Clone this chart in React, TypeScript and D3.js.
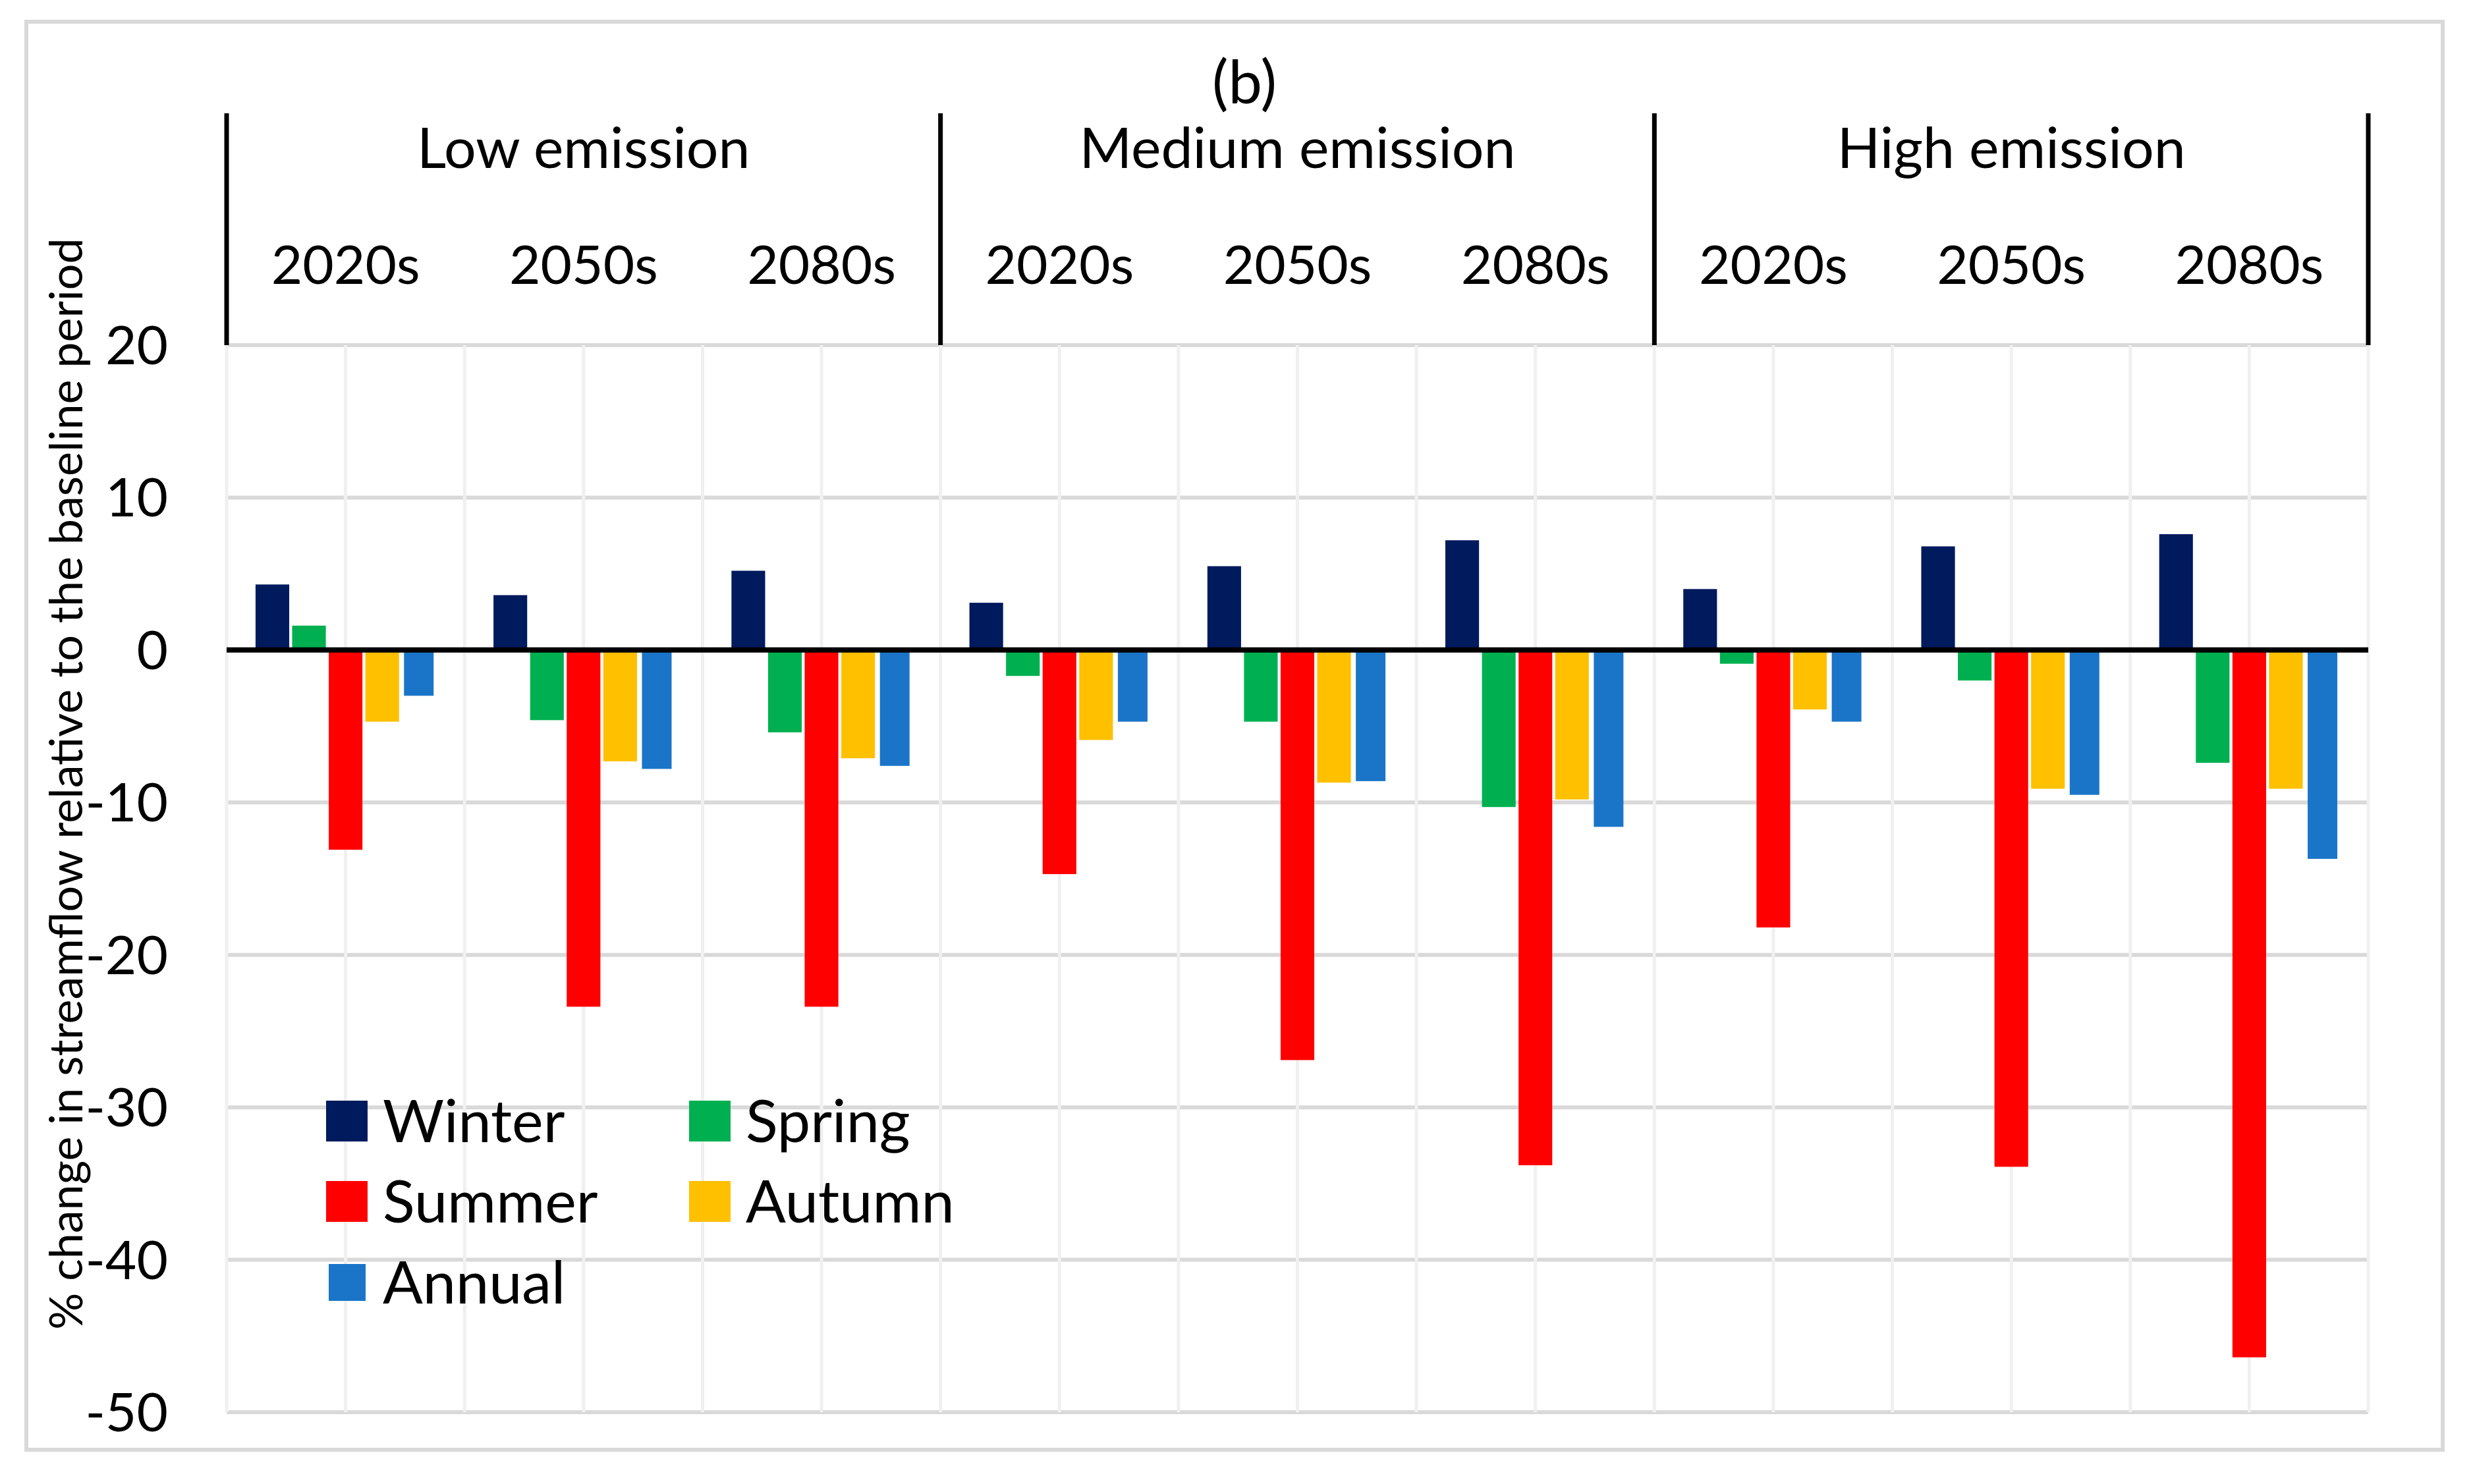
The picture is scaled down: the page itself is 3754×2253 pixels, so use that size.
import React, { useRef, useEffect } from 'react'
import * as d3 from 'd3'

const scenarios = ['Low emission', 'Medium emission', 'High emission']
const periods = ['2020s', '2050s', '2080s']
const seasons = ['Winter', 'Spring', 'Summer', 'Autumn', 'Annual']
const seasonColors = ['#001A5E', '#00B050', '#FF0000', '#FFC000', '#1A75C9']

// one value per scenario/period, in order Low 2020s .. High 2080s
const winter = [4.3, 3.6, 5.2, 3.1, 5.5, 7.2, 4.0, 6.8, 7.6]
const spring = [1.6, -4.6, -5.4, -1.7, -4.7, -10.3, -0.9, -2.0, -7.4]
const summer = [-13.1, -23.4, -23.4, -14.7, -26.9, -33.8, -18.2, -33.9, -46.4]
const autumn = [-4.7, -7.3, -7.1, -5.9, -8.7, -9.8, -3.9, -9.1, -9.1]
const annual = [-3.0, -7.8, -7.6, -4.7, -8.6, -11.6, -4.7, -9.5, -13.7]

const yTicks = [20, 10, 0, -10, -20, -30, -40, -50]

const W = 3754
const H = 2253
const FONT = 'Lato, "Open Sans", sans-serif'

const App = () => {
  const svgRef = useRef(null)

  useEffect(() => {
    document.body.style.margin = '0'
    document.body.style.overflow = 'hidden'

    const svg = d3.select(svgRef.current)
    svg.selectAll('*').remove()

    const margin = { top: 524, right: W - 3595, bottom: H - 2144, left: 344 }
    const width = W - margin.left - margin.right
    const height = H - margin.top - margin.bottom

    const categories = []
    scenarios.forEach((s) => periods.forEach((p) => categories.push(`${s}|${p}`)))
    const seriesValues = [winter, spring, summer, autumn, annual]
    const data = categories.map((c, i) => ({
      key: c,
      values: seasons.map((s, j) => ({ season: s, value: seriesValues[j][i], color: seasonColors[j] })),
    }))

    const x0 = d3.scaleBand().domain(categories).range([0, width]).padding(0)
    const x1 = d3
      .scaleBand()
      .domain(seasons)
      .range([0, x0.bandwidth()])
      .paddingInner(0.08)
      .paddingOuter(0.79)
    const xg = d3.scaleBand().domain(scenarios).range([0, width])

    const y = d3.scaleLinear().domain([-50, 20]).range([height, 0])

    // outer frame
    svg
      .append('rect')
      .attr('x', 40)
      .attr('y', 33)
      .attr('width', 3668)
      .attr('height', 2168)
      .attr('fill', '#fff')
      .attr('stroke', '#D9D9D9')
      .attr('stroke-width', 6)

    const g = svg.append('g').attr('transform', `translate(${margin.left},${margin.top})`)

    // horizontal gridlines
    g.append('g')
      .selectAll('line')
      .data(yTicks)
      .enter()
      .append('line')
      .attr('x1', 0)
      .attr('x2', width)
      .attr('y1', (d) => y(d))
      .attr('y2', (d) => y(d))
      .attr('stroke', '#D9D9D9')
      .attr('stroke-width', 6)

    // vertical gridlines at category edges and centres
    const vLines = []
    categories.forEach((c) => {
      vLines.push(x0(c))
      vLines.push(x0(c) + x0.bandwidth() / 2)
    })
    vLines.push(width)
    g.append('g')
      .selectAll('line')
      .data(vLines)
      .enter()
      .append('line')
      .attr('x1', (d) => d)
      .attr('x2', (d) => d)
      .attr('y1', 0)
      .attr('y2', height)
      .attr('stroke', '#F0F0F0')
      .attr('stroke-width', 5)

    // bars
    const cat = g
      .append('g')
      .selectAll('g')
      .data(data)
      .enter()
      .append('g')
      .attr('transform', (d) => `translate(${x0(d.key)},0)`)

    cat
      .selectAll('rect')
      .data((d) => d.values)
      .enter()
      .append('rect')
      .attr('x', (d) => {
        const bw = d.season === 'Annual' ? x1.bandwidth() * 0.88 : x1.bandwidth()
        return x1(d.season) + (x1.bandwidth() - bw) / 2
      })
      .attr('width', (d) => (d.season === 'Annual' ? x1.bandwidth() * 0.88 : x1.bandwidth()))
      .attr('y', (d) => Math.min(y(d.value), y(0)))
      .attr('height', (d) => Math.abs(y(d.value) - y(0)))
      .attr('fill', (d) => d.color)

    // zero line
    g.append('line')
      .attr('x1', 0)
      .attr('x2', width)
      .attr('y1', y(0))
      .attr('y2', y(0))
      .attr('stroke', '#000')
      .attr('stroke-width', 8)

    // y tick labels
    g.append('g')
      .selectAll('text')
      .data(yTicks)
      .enter()
      .append('text')
      .attr('x', 255 - margin.left)
      .attr('y', (d) => y(d) + 29)
      .attr('text-anchor', 'end')
      .attr('font-family', FONT)
      .attr('font-size', 82)
      .attr('fill', '#000')
      .text((d) => d)

    // multi-level category axis on top
    const sepX = scenarios.map((s) => xg(s)).concat([width])
    g.append('g')
      .selectAll('line')
      .data(sepX)
      .enter()
      .append('line')
      .attr('x1', (d) => d)
      .attr('x2', (d) => d)
      .attr('y1', 172 - margin.top)
      .attr('y2', 0)
      .attr('stroke', '#000')
      .attr('stroke-width', 7)

    g.append('g')
      .selectAll('text')
      .data(categories)
      .enter()
      .append('text')
      .attr('x', (d) => x0(d) + x0.bandwidth() / 2)
      .attr('y', 431 - margin.top)
      .attr('text-anchor', 'middle')
      .attr('font-family', FONT)
      .attr('font-size', 82)
      .text((d) => d.split('|')[1])

    g.append('g')
      .selectAll('text')
      .data(scenarios)
      .enter()
      .append('text')
      .attr('x', (d) => xg(d) + xg.bandwidth() / 2)
      .attr('y', 255 - margin.top)
      .attr('text-anchor', 'middle')
      .attr('font-family', FONT)
      .attr('font-size', 86)
      .text((d) => d)

    // title
    svg
      .append('text')
      .attr('x', 1889)
      .attr('y', 157)
      .attr('text-anchor', 'middle')
      .attr('font-family', FONT)
      .attr('font-size', 92)
      .text('(b)')

    // y axis title
    svg
      .append('text')
      .attr('transform', 'translate(125,1190) rotate(-90)')
      .attr('text-anchor', 'middle')
      .attr('font-family', FONT)
      .attr('font-size', 70)
      .text('% change in streamflow relative to the baseline period')

    // legend
    const legendPos = [
      [495, 1702],
      [1046, 1702],
      [495, 1824],
      [1046, 1824],
      [495, 1947],
    ]
    const legend = svg
      .append('g')
      .selectAll('g')
      .data(seasons)
      .enter()
      .append('g')
      .attr('transform', (d, i) => `translate(${legendPos[i][0]},${legendPos[i][1]})`)
    legend
      .append('rect')
      .attr('x', (d) => (d === 'Annual' ? 4 : 0))
      .attr('y', (d) => (d === 'Annual' ? -28 : -31))
      .attr('width', (d) => (d === 'Annual' ? 56 : 63))
      .attr('height', (d) => (d === 'Annual' ? 56 : 62))
      .attr('fill', (d, i) => seasonColors[i])
    legend
      .append('text')
      .attr('x', 86)
      .attr('y', 32)
      .attr('font-family', FONT)
      .attr('font-size', 90)
      .text((d) => d)
  }, [])

  return (
    <div style={{ width: W, height: H }}>
      <svg ref={svgRef} width={W} height={H} style={{ display: 'block' }} />
    </div>
  )
}

export default App
